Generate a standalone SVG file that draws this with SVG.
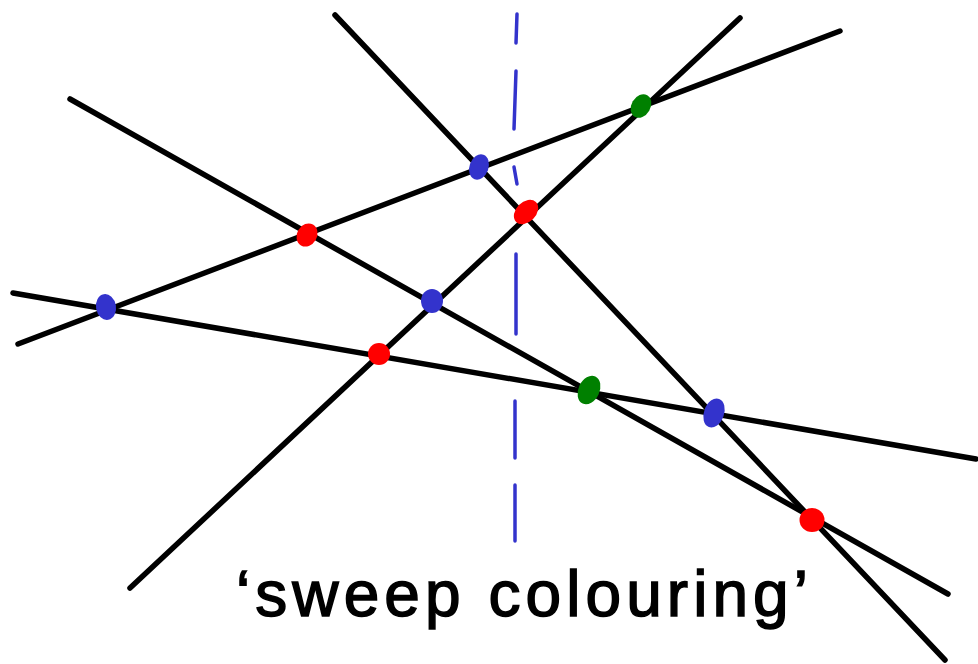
<svg xmlns="http://www.w3.org/2000/svg" width="978" height="664" viewBox="0 0 978 664">
<style>
.ln{stroke:#000;stroke-width:5.5;stroke-linecap:round;fill:none}
.ds{stroke:#3333cc;stroke-width:3.5;stroke-linecap:round;fill:none}
.b{fill:#3333cc}.r{fill:#ff0000}.g{fill:#008000}
.t{font-family:"Liberation Sans",Arial,sans-serif;font-size:64px;fill:#000;stroke:#000;stroke-width:1.5}
</style>
<rect width="978" height="664" fill="#fff"/>
<g id="sweep">
<line class="ds" x1="517" y1="14" x2="516" y2="43"/>
<line class="ds" x1="516" y1="71" x2="514" y2="129"/>
<line class="ds" x1="514" y1="167" x2="517" y2="184"/>
<line class="ds" x1="516" y1="254" x2="516" y2="334"/>
<line class="ds" x1="515" y1="401" x2="515" y2="458"/>
<line class="ds" x1="515" y1="485" x2="515" y2="541"/>
</g>
<g id="lines">
<line class="ln" x1="335" y1="15" x2="945" y2="660"/>
<line class="ln" x1="740" y1="18" x2="130" y2="588"/>
<line class="ln" x1="840" y1="31" x2="18" y2="344"/>
<line class="ln" x1="70" y1="99" x2="948" y2="594"/>
<line class="ln" x1="13" y1="293" x2="976" y2="459"/>
</g>
<g id="points">
<ellipse class="b" cx="479" cy="167" rx="9.5" ry="13" transform="rotate(20 479 167)"/>
<ellipse class="b" cx="106" cy="307" rx="10" ry="13" transform="rotate(-10 106 307)"/>
<ellipse class="b" cx="432" cy="301" rx="11" ry="12"/>
<ellipse class="b" cx="714" cy="413" rx="10" ry="15" transform="rotate(20 714 413)"/>
<ellipse class="r" cx="307" cy="235" rx="10" ry="12" transform="rotate(30 307 235)"/>
<ellipse class="r" cx="526" cy="212" rx="10" ry="14" transform="rotate(45 526 212)"/>
<ellipse class="r" cx="379" cy="354" rx="11" ry="11"/>
<ellipse class="r" cx="812" cy="520" rx="12.5" ry="12"/>
<ellipse class="g" cx="641" cy="106" rx="9.5" ry="12.5" transform="rotate(30 641 106)"/>
<ellipse class="g" cx="589" cy="390" rx="10.5" ry="15" transform="rotate(25 589 390)"/>
</g>
<g id="label">
<text class="t" x="236" y="616" textLength="572" lengthAdjust="spacing">‘sweep colouring’</text>
</g>
</svg>
